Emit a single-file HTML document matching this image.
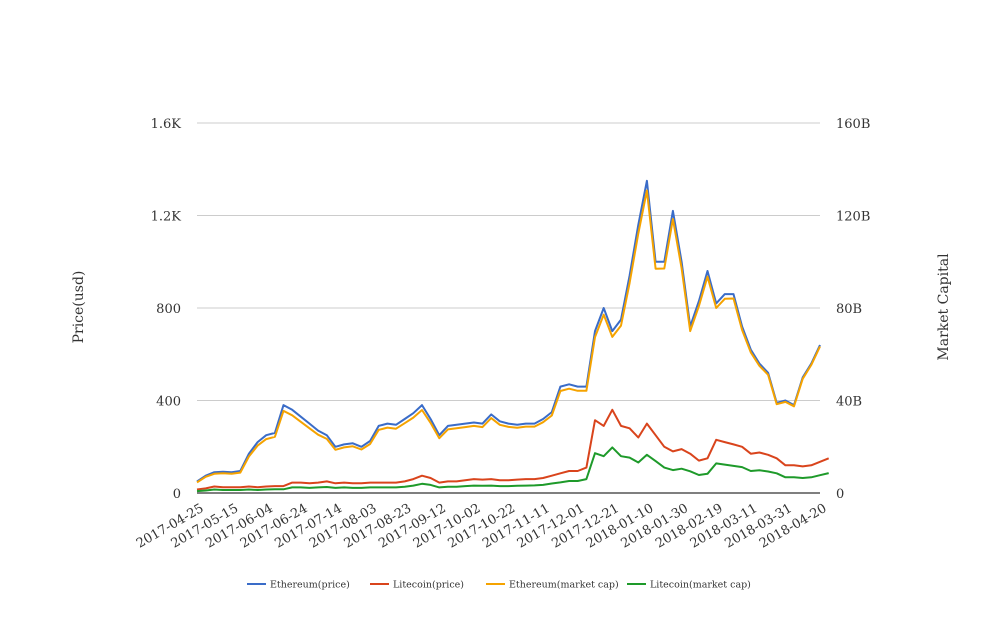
<!DOCTYPE html>
<html><head><meta charset="utf-8"><style>
body{margin:0;background:#fff;}
svg text{font-family:"DejaVu Serif","Liberation Serif",serif;fill:#333;}
</style></head><body>
<svg id="chart" width="1008" height="616" xmlns="http://www.w3.org/2000/svg"></svg>
<script>
const startDate = "2017-04-25";
const stepDays = 5;
const xTickLabels = ["2017-04-25","2017-05-15","2017-06-04","2017-06-24","2017-07-14","2017-08-03","2017-08-23","2017-09-12","2017-10-02","2017-10-22","2017-11-11","2017-12-01","2017-12-21","2018-01-10","2018-01-30","2018-02-19","2018-03-11","2018-03-31","2018-04-20"];
const leftTicks = [0,400,800,1200,1600];
const leftTickLabels = ["0","400","800","1.2K","1.6K"];
const rightTicks = [0,40,80,120,160];
const rightTickLabels = ["0","40B","80B","120B","160B"];
const ethPrice = [50,75,90,92,90,95,170,220,250,260,380,360,330,300,270,250,200,210,215,200,225,290,300,295,320,345,380,320,250,290,295,300,305,300,340,310,300,295,300,300,320,350,460,470,460,460,700,800,700,750,940,1160,1350,1000,1000,1220,1000,720,830,960,820,860,860,720,620,560,520,390,400,380,500,560,640];
const ltcPrice = [15,20,28,25,25,25,28,25,28,30,30,45,45,42,45,50,42,45,42,42,45,45,45,45,50,60,75,65,45,50,50,55,60,58,60,55,55,58,60,60,65,75,85,95,95,110,315,290,360,290,280,240,300,250,200,180,190,170,140,150,230,220,210,200,170,175,165,150,120,120,115,120,135,150];
const ethCap = [4.6,7,8.3,8.5,8.3,8.8,15.8,20.5,23.3,24.3,35.5,33.6,30.8,28,25.2,23.4,18.7,19.7,20.2,18.8,21.2,27.3,28.3,27.8,30.2,32.6,35.9,30.3,23.7,27.5,28,28.5,29,28.5,32.4,29.5,28.6,28.2,28.7,28.7,30.6,33.5,44.1,45.1,44.2,44.2,67.4,77.1,67.5,72.4,90.8,112.2,130.8,97,97.1,118.5,97.2,70,80.8,93.6,80,84,84.1,70.5,60.8,55,51.1,38.4,39.4,37.5,49.4,55.4,63.4];
const ltcCap = [0.8,1.1,1.5,1.3,1.3,1.3,1.5,1.3,1.5,1.6,1.6,2.4,2.4,2.2,2.4,2.6,2.2,2.4,2.2,2.2,2.4,2.4,2.4,2.4,2.7,3.2,4,3.5,2.4,2.7,2.7,3,3.2,3.1,3.2,3,3,3.1,3.2,3.3,3.5,4.1,4.6,5.2,5.2,6,17.2,15.9,19.7,15.9,15.3,13.2,16.5,13.8,11,9.9,10.5,9.4,7.8,8.3,12.8,12.3,11.7,11.2,9.5,9.8,9.3,8.5,6.8,6.8,6.5,6.8,7.7,8.6];

const NS="http://www.w3.org/2000/svg";
const svg=document.getElementById('chart');
const X0=197,X1=820,Y0=493,Y1=123;
const t0=Date.parse(startDate);
const tEnd=Date.parse(xTickLabels[xTickLabels.length-1]);
const totalDays=(tEnd-t0)/864e5;
function xDay(d){return X0+(X1-X0)*d/totalDays;}
function yL(v){return Y0-(Y0-Y1)*v/1600;}
function yR(v){return Y0-(Y0-Y1)*v/160;}
function mk(tag,attrs,txt){const e=document.createElementNS(NS,tag);for(const k in attrs)e.setAttribute(k,attrs[k]);if(txt!==undefined)e.textContent=txt;svg.appendChild(e);return e;}

leftTicks.forEach((v,i)=>{
  if(v>0){const g=mk('line',{x1:X0,x2:X1,y1:yL(v),y2:yL(v),stroke:'#ccc','stroke-width':1});
  
  }
  const t=mk('text',{x:181,y:yL(v)+5,'text-anchor':'end','font-size':13},leftTickLabels[i]);
  
  
});
rightTicks.forEach((v,i)=>{
  const t=mk('text',{x:836,y:yR(v)+5,'text-anchor':'start','font-size':13},rightTickLabels[i]);
  
  
});
const base=mk('line',{x1:X0,x2:X1,y1:Y0,y2:Y0,stroke:'#333','stroke-width':1.2});


xTickLabels.forEach(lbl=>{
  const d=(Date.parse(lbl)-t0)/864e5;const x=xDay(d);
  const t=mk('text',{x:x+3,y:503,'text-anchor':'end','font-size':13,transform:`rotate(-30 ${x+3} 503)`,'dominant-baseline':'hanging'},lbl);
  
  
});
const lt=mk('text',{x:83,y:307,'text-anchor':'middle','font-size':14,transform:'rotate(-90 83 307)'},'Price(usd)');


const rt=mk('text',{x:948,y:307,'text-anchor':'middle','font-size':14,transform:'rotate(-90 948 307)'},'Market Capital');



function line(arr,yf,color,name){
  const pts=arr.map((v,i)=>xDay(i*stepDays).toFixed(1)+','+yf(v).toFixed(1)).join(' ');
  const p=mk('polyline',{points:pts,fill:'none',stroke:color,'stroke-width':2,'stroke-linejoin':'round'});
  
  
}
line(ethPrice,yL,'#3a6cc8','ethereum-price-line');
line(ltcPrice,yL,'#d9441c','litecoin-price-line');
line(ethCap,yR,'#f5a300','ethereum-market-cap-line');
line(ltcCap,yR,'#1e9a2a','litecoin-market-cap-line');

const legend=[["Ethereum(price)","#3a6cc8",247],["Litecoin(price)","#d9441c",370],["Ethereum(market cap)","#f5a300",486],["Litecoin(market cap)","#1e9a2a",627]];
legend.forEach(([n,c,x])=>{
  const l=mk('line',{x1:x,x2:x+19,y1:584,y2:584,stroke:c,'stroke-width':2});
  
  
  const t=mk('text',{x:x+23,y:587.5,'font-size':9.5},n);
  
  
});
</script>
</body></html>
